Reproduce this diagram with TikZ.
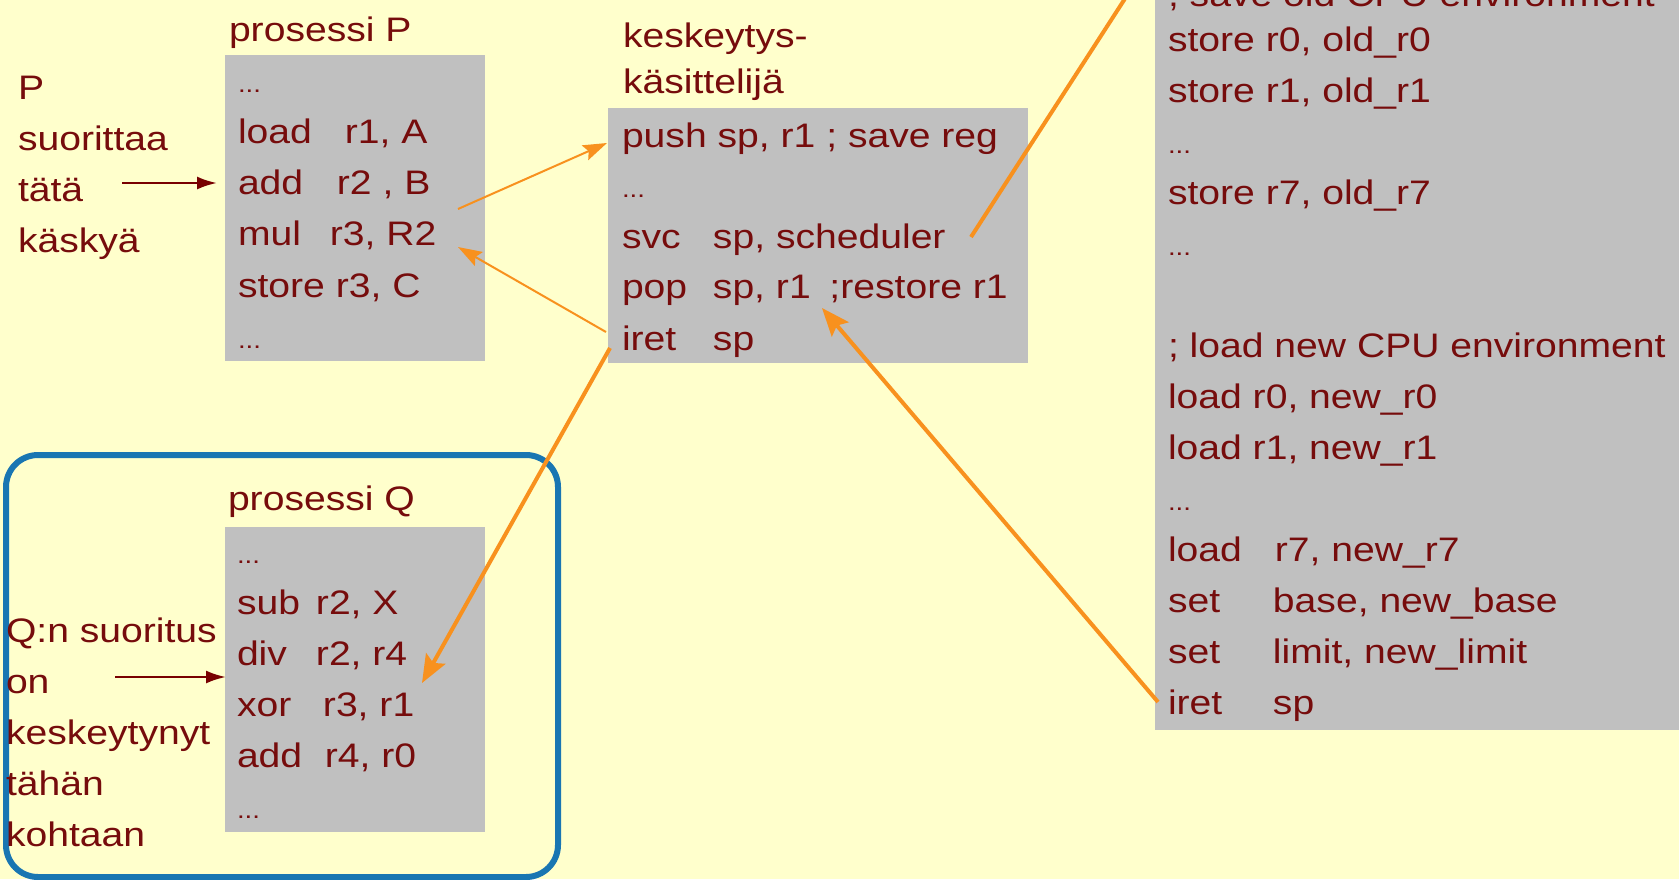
\documentclass[tikz,border=0pt]{standalone}
\usepackage{fontspec}
\setmainfont{Liberation Sans}[FakeStretch=1.15]
\usetikzlibrary{arrows.meta}

\definecolor{paper}{RGB}{255,255,204}
\definecolor{panel}{RGB}{192,192,192}
\definecolor{ink}{RGB}{118,12,12}
\definecolor{flow}{RGB}{248,145,30}
\definecolor{frame}{RGB}{25,118,178}
\definecolor{pointer}{RGB}{120,0,0}

% mnemonic padded to a fixed width, like a tab stop
\newcommand\opw[2]{\makebox[#1pt][l]{#2}}

\begin{document}
\begin{tikzpicture}[x=1pt,y=-1pt,
  code/.style={anchor=base west, inner sep=0pt, outer sep=0pt, text=ink,
               font=\fontsize{34}{40}\selectfont},
  dots/.style={code, font=\fontsize{24}{28}\selectfont},
  panelbox/.style={fill=panel, draw=none, anchor=north west, inner sep=0pt},
  thinflow/.style={draw=flow, line width=2pt,
                   -{Stealth[length=24pt,width=16pt,inset=4pt]}},
  thickflow/.style={draw=flow, line width=4pt,
                    -{Stealth[length=28pt,width=22pt,inset=5pt]}},
  plainflow/.style={draw=flow, line width=4pt},
  pointto/.style={draw=pointer, line width=2.5pt,
                  -{Latex[length=20pt,width=13pt]}}]

\useasboundingbox (0,0) rectangle (1679,879);
\begin{scope}
\clip (0,0) rectangle (1679,879);
\fill[paper] (0,0) rectangle (1679,879);

% code panels
\node[panelbox, minimum width=260pt, minimum height=306pt] (boxP) at (225,55) {};
\node[panelbox, minimum width=420pt, minimum height=255pt] (boxK) at (608,108) {};
\node[panelbox, minimum width=540pt, minimum height=735pt] (boxS) at (1155,-5) {};
\node[panelbox, minimum width=260pt, minimum height=305pt] (boxQ) at (225,527) {};

% frame round process Q
\node[draw=frame, line width=6pt, rounded corners=32pt, anchor=north west,
      inner sep=0pt, minimum width=552pt, minimum height=422pt] (qframe) at (3,452) {};

% process P
\node[code] (titleP) at (229,41) {prosessi P};
\node[dots] (p0) at (238,92) {...};
\node[code] (p1) at (238,143) {\opw{107}{load}r1, A};
\node[code] (p2) at (238,194) {\opw{99}{add}r2 , B};
\node[code] (p3) at (238,245) {\opw{92}{mul}r3, R2};
\node[code] (p4) at (238,297) {store r3, C};
\node[dots] (p5) at (238,348) {...};

\node[code] (lp1) at (18,99) {P};
\node[code] (lp2) at (18,150) {suorittaa};
\node[code] (lp3) at (18,201) {tätä};
\node[code] (lp4) at (18,252) {käskyä};

% interrupt handler
\node[code] (titleK1) at (623,47) {keskeytys-};
\node[code] (titleK2) at (623,93) {käsittelijä};
\node[code] (k0) at (622,147) {push sp, r1 ; save reg};
\node[dots] (k1) at (622,197) {...};
\node[code] (k2) at (622,248) {\opw{91}{svc}sp, scheduler};
\node[code] (k3) at (622,298) {\opw{91}{pop}\opw{116.5}{sp, r1};restore r1};
\node[code] (k4) at (622,350) {\opw{91}{iret}sp};

% scheduler
\node[code] (s0) at (1168,6) {; save old CPU environment};
\node[code] (s1) at (1168,51) {store r0, old\_r0};
\node[code] (s2) at (1168,102) {store r1, old\_r1};
\node[dots] (s3) at (1168,153) {...};
\node[code] (s4) at (1168,204) {store r7, old\_r7};
\node[dots] (s5) at (1168,255) {...};
\node[code] (s6) at (1168,357) {; load new CPU environment};
\node[code] (s7) at (1168,408) {load r0, new\_r0};
\node[code] (s8) at (1168,459) {load r1, new\_r1};
\node[dots] (s9) at (1168,510) {...};
\node[code] (s10) at (1168,561) {\opw{107}{load}r7, new\_r7};
\node[code] (s11) at (1168,612) {\opw{105}{set}base, new\_base};
\node[code] (s12) at (1168,663) {\opw{105}{set}limit, new\_limit};
\node[code] (s13) at (1168,714) {\opw{105}{iret}sp};

% process Q
\node[code] (titleQ) at (228,510) {prosessi Q};
\node[dots] (q0) at (237,563) {...};
\node[code] (q1) at (237,614) {\opw{79}{sub}r2, X};
\node[code] (q2) at (237,665) {\opw{79}{div}r2, r4};
\node[code] (q3) at (237,716) {\opw{86}{xor}r3, r1};
\node[code] (q4) at (237,767) {\opw{88}{add}r4, r0};
\node[dots] (q5) at (237,818) {...};

\node[code] (lq1) at (6,642) {Q:n suoritus};
\node[code] (lq2) at (6,693) {on};
\node[code] (lq3) at (6,744) {keskeytynyt};
\node[code] (lq4) at (6,795) {tähän};
\node[code] (lq5) at (6,846) {kohtaan};

% connector ends
\coordinate (pcurS) at (122,183);
\coordinate (pcurE) at (217,183);
\coordinate (qcurS) at (115,677);
\coordinate (qcurE) at (226,677);
\coordinate (intS) at (458,209);
\coordinate (intE) at (607,143);
\coordinate (retS) at (606,332);
\coordinate (retE) at (458,247);
\coordinate (swS) at (610,348);
\coordinate (swE) at (422,683);
\coordinate (schS) at (1158,702);
\coordinate (schE) at (822,308);
\coordinate (callS) at (971,237);
\coordinate (callE) at (1137,-20);

% connectors
\draw[pointto] (pcurS) -- (pcurE);
\draw[pointto] (qcurS) -- (qcurE);
\draw[thinflow] (intS) -- (intE);
\draw[thinflow] (retS) -- (retE);
\draw[thickflow] (swS) -- (swE);
\draw[thickflow] (schS) -- (schE);
\draw[plainflow] (callS) -- (callE);
\end{scope}
\end{tikzpicture}
\end{document}
